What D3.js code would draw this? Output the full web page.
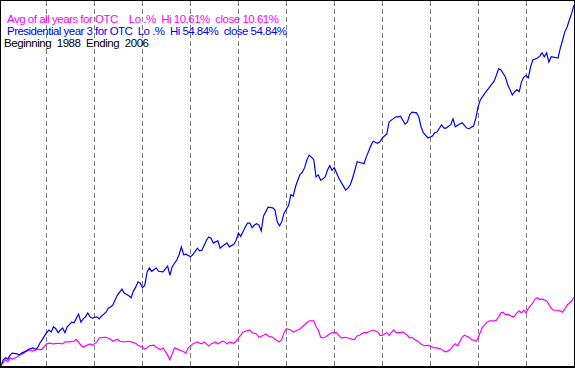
<!DOCTYPE html>
<html>
<head>
<meta charset="utf-8">
<script src="https://cdn.jsdelivr.net/npm/d3@7"></script>
<style>
  body { margin: 0; background: #fff; }
  svg { display: block; }
  text { font-family: "Liberation Sans", Arial, sans-serif; font-size: 11.5px; white-space: pre; }
</style>
</head>
<body>
<svg id="chart"></svg>
<script>
// trading day of the year (0..251) and % change, Presidential year 3 (blue)
var blueDays = [0, 1, 2, 3, 4, 5, 7, 8, 9, 11, 12, 14, 15, 16, 17, 18, 20, 21, 22, 23, 24, 25, 26, 27, 28, 29,
    31, 32, 33, 34, 35, 36, 37, 38, 39, 40, 42, 43, 44, 46, 47, 48, 49, 50, 51, 53, 54, 56, 57, 58, 59, 60,
    61, 62, 63, 64, 65, 66, 68, 69, 71, 73, 74, 75, 77, 78, 79, 80, 81, 83, 84, 86, 87, 88, 90, 91, 92, 93,
    95, 96, 97, 99, 100, 102, 103, 104, 105, 106, 107, 108, 109, 110, 111, 112, 113, 114, 115, 116, 117, 119,
    120, 121, 122, 123, 124, 126, 127, 128, 129, 130, 131, 132, 133, 134, 135, 136, 137, 138, 139, 140, 141,
    142, 143, 144, 145, 146, 147, 148, 150, 151, 152, 153, 154, 155, 156, 158, 159, 160, 162, 163, 165, 166,
    167, 169, 170, 171, 173, 174, 175, 177, 178, 179, 180, 182, 183, 184, 185, 187, 189, 190, 191, 193, 194,
    195, 197, 198, 199, 201, 202, 204, 205, 207, 208, 209, 210, 212, 214, 216, 217, 218, 219, 221, 222, 223,
    224, 225, 226, 227, 228, 229, 230, 231, 232, 233, 235, 236, 237, 238, 239, 240, 241, 244, 245, 246, 247,
    248, 249, 250, 251];
var blueVals = [0.2, 1.1, 1.4, 1.2, 1.8, 2.1, 2.0, 1.8, 2.1, 2.4, 2.7, 2.9, 2.7, 2.9, 3.6, 4.1, 5.2, 5.6, 5.3,
    6.1, 5.8, 5.2, 5.6, 5.9, 5.2, 6.1, 6.8, 6.7, 7.4, 8.0, 6.8, 7.3, 7.6, 8.2, 7.6, 7.4, 7.6, 7.3, 7.7, 8.3,
    8.9, 9.1, 9.4, 10.2, 10.9, 11.8, 11.2, 10.8, 10.5, 11.5, 12.1, 12.9, 12.7, 12.0, 12.4, 14.4, 15.0, 14.5,
    15.0, 14.5, 14.4, 15.3, 13.9, 15.2, 16.2, 17.0, 18.2, 17.0, 17.1, 16.7, 17.0, 18.0, 17.6, 17.7, 19.2,
    19.7, 19.5, 18.8, 19.1, 18.0, 18.3, 18.8, 18.2, 18.6, 19.2, 20.3, 19.8, 20.5, 21.2, 21.8, 21.8, 21.1,
    21.5, 21.7, 21.5, 20.6, 22.9, 23.5, 24.2, 24.1, 23.8, 22.0, 21.4, 22.0, 23.3, 24.5, 26.1, 25.9, 27.3,
    28.3, 29.2, 29.5, 30.2, 31.4, 32.1, 31.8, 31.4, 28.8, 29.1, 28.3, 28.5, 28.8, 29.8, 30.5, 29.8, 30.2,
    29.4, 28.6, 27.4, 26.8, 27.1, 27.6, 28.6, 29.8, 31.1, 30.9, 30.8, 31.8, 33.5, 34.2, 33.9, 34.1, 34.7,
    35.3, 37.1, 37.4, 37.9, 37.9, 38.0, 36.8, 37.1, 38.2, 38.6, 38.5, 37.9, 36.4, 35.5, 34.7, 35.0, 35.5,
    35.6, 36.7, 36.2, 36.2, 36.7, 37.6, 36.4, 36.8, 37.0, 36.2, 36.1, 36.5, 37.7, 39.4, 40.5, 41.5, 42.4,
    43.3, 44.2, 45.2, 45.0, 43.9, 42.7, 42.0, 41.2, 41.7, 42.0, 41.7, 43.2, 43.9, 44.2, 43.8, 45.5, 46.5,
    46.8, 47.1, 47.6, 47.0, 47.6, 46.2, 47.0, 46.8, 48.3, 49.5, 50.8, 51.5, 52.6, 53.6, 54.84];

// average of all years (magenta)
var pinkDays = [0, 2, 3, 4, 5, 7, 8, 10, 11, 13, 14, 16, 17, 18, 20, 21, 23, 25, 27, 28, 30, 32, 33, 35, 36,
    37, 39, 40, 42, 43, 45, 46, 48, 49, 51, 52, 54, 56, 57, 59, 60, 62, 63, 64, 65, 67, 68, 70, 71, 73, 74,
    75, 76, 78, 80, 81, 82, 84, 86, 87, 88, 89, 91, 92, 94, 95, 97, 98, 99, 100, 102, 103, 104, 105, 106,
    108, 109, 110, 112, 113, 115, 116, 117, 119, 120, 122, 123, 124, 125, 127, 128, 130, 131, 132, 134, 135,
    137, 138, 139, 140, 141, 142, 144, 145, 147, 148, 149, 151, 152, 154, 155, 156, 157, 159, 160, 161, 163,
    165, 166, 167, 169, 170, 171, 172, 173, 175, 176, 178, 179, 180, 181, 183, 184, 185, 186, 187, 189, 190,
    191, 193, 194, 195, 197, 198, 199, 200, 201, 202, 203, 205, 206, 208, 209, 210, 211, 213, 214, 216, 217,
    218, 219, 220, 221, 222, 224, 225, 226, 227, 228, 229, 230, 231, 233, 234, 235, 236, 237, 239, 240, 241,
    242, 244, 245, 246, 247, 248, 250, 251];
var pinkVals = [0.3, 1.1, 0.8, 1.4, 1.2, 1.5, 1.8, 2.1, 2.4, 2.6, 2.4, 2.7, 2.6, 2.7, 3.5, 3.6, 3.5, 3.6, 3.5,
    3.8, 3.8, 3.9, 4.2, 3.3, 3.0, 3.2, 3.5, 3.3, 3.8, 4.4, 4.5, 4.5, 4.2, 3.9, 4.2, 3.9, 3.8, 3.9, 3.8, 3.6,
    3.3, 3.0, 2.7, 2.9, 3.2, 3.3, 3.0, 2.6, 2.9, 1.8, 1.1, 2.0, 2.9, 2.6, 2.3, 2.1, 2.9, 3.5, 3.8, 3.6, 3.5,
    3.8, 3.2, 3.5, 3.8, 3.5, 3.9, 3.8, 3.5, 3.8, 3.6, 3.9, 4.4, 4.8, 5.3, 5.5, 5.6, 5.2, 5.0, 4.5, 4.8, 5.0,
    4.7, 4.5, 4.2, 3.8, 4.2, 5.2, 5.8, 5.6, 5.3, 5.6, 5.8, 6.1, 6.7, 7.0, 7.0, 6.1, 5.6, 4.5, 4.4, 4.5, 5.0,
    5.2, 5.2, 4.8, 4.4, 4.5, 4.4, 4.2, 4.2, 4.7, 4.8, 5.2, 5.2, 5.3, 5.6, 5.3, 4.8, 4.8, 5.2, 4.8, 5.2, 5.6,
    5.2, 5.2, 5.3, 4.8, 4.4, 4.5, 4.2, 3.8, 3.5, 3.3, 3.2, 3.3, 3.0, 2.9, 2.9, 2.7, 2.4, 2.3, 2.7, 3.2, 3.5,
    3.2, 3.8, 4.5, 4.8, 4.5, 4.2, 3.9, 4.4, 5.3, 6.1, 6.8, 7.0, 7.0, 7.1, 7.6, 8.2, 8.3, 7.9, 8.0, 7.6, 7.7,
    8.2, 8.5, 8.2, 8.6, 8.2, 8.9, 9.7, 10.3, 10.5, 10.2, 10.3, 10.0, 9.5, 8.9, 8.6, 8.6, 8.5, 8.3, 8.8, 9.4,
    10.0, 10.61];

var months = [1, 2, 3, 4, 5, 6, 7, 8, 9, 10, 11];

var legendLines = [
    'Avg of all years for OTC    Lo .%  Hi 10.61%  close 10.61%',
    'Presidential year 3 for OTC  Lo .%  Hi 54.84%  close 54.84%',
    'Beginning  1988  Ending  2006'
];
var legendColors = ['#ff00ff', '#0000ff', '#000000'];
var legendWidths = [272, 280, 145];

var width = 575, height = 368;

var svg = d3.select('#chart')
    .attr('width', width)
    .attr('height', height);

var x = d3.scaleLinear().domain([0, 251]).range([1, 574]);
var xMonth = d3.scaleLinear().domain([0, 12]).range([-2, 574]);
var y = d3.scaleLinear().domain([0, 54.84]).range([367, 5]);

svg.append('rect')
    .attr('width', width)
    .attr('height', height)
    .attr('fill', '#fff');

// dashed month separators
svg.selectAll('line.grid')
    .data(months)
    .enter()
    .append('line')
    .attr('class', 'grid')
    .attr('x1', function (d) { return Math.round(xMonth(d)) + 0.5; })
    .attr('x2', function (d) { return Math.round(xMonth(d)) + 0.5; })
    .attr('y1', 1)
    .attr('y2', 366)
    .attr('stroke', '#808080')
    .attr('stroke-width', 1)
    .attr('stroke-dasharray', '5,3');

var line = d3.line()
    .x(function (d) { return x(d[0]); })
    .y(function (d) { return y(d[1]); });

var series = [
    { color: '#ff00ff', pts: d3.zip(pinkDays, pinkVals) },
    { color: '#0000ff', pts: d3.zip(blueDays, blueVals) }
];

svg.selectAll('path.series')
    .data(series)
    .enter()
    .append('path')
    .attr('class', 'series')
    .attr('d', function (d) { return line(d.pts); })
    .attr('fill', 'none')
    .attr('stroke', function (d) { return d.color; })
    .attr('stroke-width', 1.2);

svg.selectAll('text.legend')
    .data(legendLines)
    .enter()
    .append('text')
    .attr('class', 'legend')
    .attr('x', function (d, i) { return i < 2 ? 7 : 4; })
    .attr('y', function (d, i) { return 23 + i * 12; })
    .attr('fill', function (d, i) { return legendColors[i]; })
    .attr('textLength', function (d, i) { return legendWidths[i]; })
    .attr('lengthAdjust', 'spacing')
    .text(function (d) { return d; });

// frame
svg.append('rect')
    .attr('x', 0.5)
    .attr('y', 0.5)
    .attr('width', 574)
    .attr('height', 366)
    .attr('fill', 'none')
    .attr('stroke', '#000')
    .attr('stroke-width', 1);
svg.append('line')
    .attr('x1', 0).attr('x2', width)
    .attr('y1', 367.5).attr('y2', 367.5)
    .attr('stroke', '#000');
</script>
</body>
</html>
